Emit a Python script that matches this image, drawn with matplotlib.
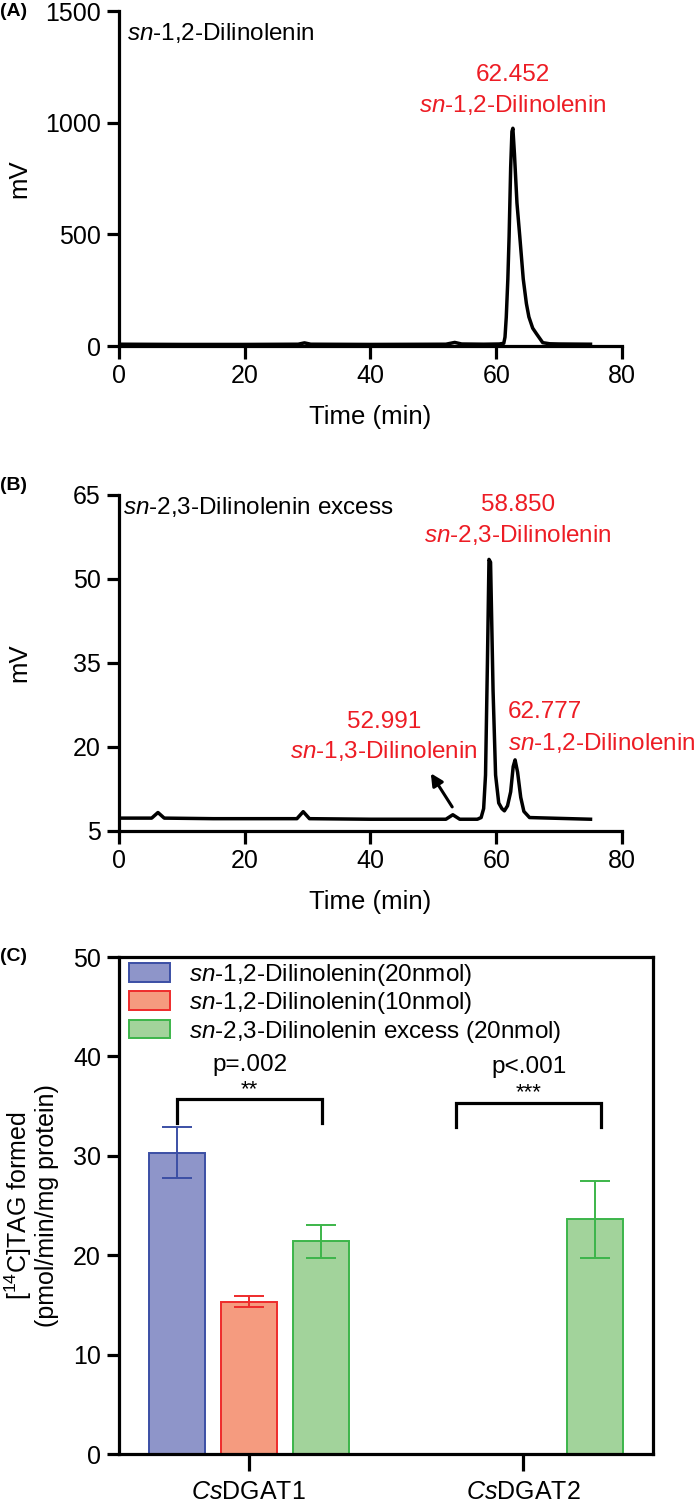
import matplotlib
matplotlib.use("Agg")
import matplotlib.pyplot as plt
from matplotlib.patches import Patch
import numpy as np

plt.rcParams["font.family"] = ["Liberation Sans", "DejaVu Sans"]
plt.rcParams["mathtext.fontset"] = "custom"
plt.rcParams["mathtext.rm"] = "Liberation Sans"
plt.rcParams["mathtext.it"] = "Liberation Sans:italic"
plt.rcParams["font.size"] = 17

RED = "#ed1c24"
LW = 2.3
FS_TICK = 18
FS_NOTE = 17.5

# (A) sn-1,2-Dilinolenin trace
a_time = [0, 10, 20, 28.5, 29.5, 30.5, 40, 52, 53.4, 54.5, 58, 60.5, 61.2, 61.4, 61.6,
          61.85, 62.05, 62.3, 62.5, 62.65, 62.9, 63.3, 63.75, 64.3, 64.8, 65.2, 65.8,
          66.4, 67.4, 68.5, 70, 75]
a_mv = [8, 7, 7, 8, 14, 8, 7, 8, 16, 9, 8, 9, 12, 40, 130,
        300, 490, 800, 960, 975, 860, 640, 490, 300, 190, 130, 80,
        55, 15, 10, 9, 8]

# (B) sn-2,3-Dilinolenin excess trace
b_time = [0, 5.2, 6.2, 7.2, 15, 28.3, 29.3, 30.3, 40, 52.0, 53.1, 54.2, 57.0, 57.6,
          58.0, 58.3, 58.6, 58.85, 59.1, 59.5, 59.9, 60.4, 60.9, 61.3, 61.8, 62.3, 62.7,
          63.0, 63.4, 63.9, 64.4, 65.3, 75]
b_mv = [7.3, 7.3, 8.3, 7.3, 7.2, 7.2, 8.45, 7.2, 7.1, 7.1, 7.9, 7.1, 7.1, 7.4,
        9, 15, 35, 53.5, 53, 30, 15, 10, 9, 8.6, 9.5, 12, 16.5,
        17.7, 15.5, 11, 8.5, 7.4, 7.1]

# (C) DGAT activity
genes = ["DGAT1", "DGAT2"]
series = ["$\\mathit{sn}$-1,2-Dilinolenin(20nmol)",
          "$\\mathit{sn}$-1,2-Dilinolenin(10nmol)",
          "$\\mathit{sn}$-2,3-Dilinolenin excess (20nmol)"]
means = [[30.3, np.nan], [15.3, np.nan], [21.4, 23.6]]
sds = [[2.55, np.nan], [0.55, np.nan], [1.65, 3.9]]
face_colors = ["#8e95c9", "#f59b7f", "#a2d39b"]
edge_colors = ["#3b4fa5", "#ee2b2b", "#3cb54a"]
p_labels = ["p=.002", "p<.001"]
stars = ["**", "***"]


def style_axes(ax):
    for side in ["left", "bottom", "top", "right"]:
        ax.spines[side].set_linewidth(LW)
    ax.tick_params(width=LW, length=9, labelsize=FS_TICK, pad=4)


fig = plt.figure(figsize=(6.95, 15.03), dpi=100)

# ---- (A)
ax = fig.add_axes([0.1712, 0.76979, 0.7237, 0.22289])
ax.plot(a_time, a_mv, color="black", lw=2.5, solid_joinstyle="round")
ax.set_xlim(0, 80)
ax.set_ylim(0, 1500)
ax.set_xticks([0, 20, 40, 60, 80])
ax.set_yticks([0, 500, 1000, 1500])
ax.spines["top"].set_visible(False)
ax.spines["right"].set_visible(False)
style_axes(ax)
ax.set_xlabel("Time (min)", fontsize=18.5, labelpad=12)
ax.set_ylabel("mV", fontsize=18.5)
ax.yaxis.set_label_coords(-0.175, 0.5)
ax.text(1.3, 1401, "$\\mathit{sn}$-1,2-Dilinolenin", ha="left", va="center", fontsize=FS_NOTE)
ax.text(62.6, 1213, "62.452", ha="center", va="center", color=RED, fontsize=FS_NOTE)
ax.text(62.6, 1079, "$\\mathit{sn}$-1,2-Dilinolenin", ha="center", va="center",
        color=RED, fontsize=FS_NOTE)
fig.text(0.0, 1 - 12 / 1503, "(A)", ha="left", va="center", fontsize=14, weight="bold")

# ---- (B)
ax = fig.add_axes([0.1712, 0.44711, 0.7237, 0.22355])
ax.plot(b_time, b_mv, color="black", lw=2.5, solid_joinstyle="round")
ax.set_xlim(0, 80)
ax.set_ylim(5, 65)
ax.set_xticks([0, 20, 40, 60, 80])
ax.set_yticks([5, 20, 35, 50, 65])
ax.spines["top"].set_visible(False)
ax.spines["right"].set_visible(False)
style_axes(ax)
ax.set_xlabel("Time (min)", fontsize=18.5, labelpad=12)
ax.set_ylabel("mV", fontsize=18.5)
ax.yaxis.set_label_coords(-0.175, 0.5)
ax.text(0.6, 62.9, "$\\mathit{sn}$-2,3-Dilinolenin excess", ha="left", va="center",
        fontsize=FS_NOTE)
ax.text(63.4, 63.2, "58.850", ha="center", va="center", color=RED, fontsize=FS_NOTE)
ax.text(63.4, 57.9, "$\\mathit{sn}$-2,3-Dilinolenin", ha="center", va="center",
        color=RED, fontsize=FS_NOTE)
ax.text(61.8, 26.3, "62.777", ha="left", va="center", color=RED, fontsize=FS_NOTE)
ax.text(61.9, 20.7, "$\\mathit{sn}$-1,2-Dilinolenin", ha="left", va="center",
        color=RED, fontsize=FS_NOTE, clip_on=False)
ax.text(42.1, 24.5, "52.991", ha="center", va="center", color=RED, fontsize=FS_NOTE)
ax.text(42.1, 19.2, "$\\mathit{sn}$-1,3-Dilinolenin", ha="center", va="center",
        color=RED, fontsize=FS_NOTE)
ax.annotate("", xy=(49.6, 15.3), xytext=(53.0, 9.3),
            arrowprops=dict(arrowstyle="-|>", color="black", lw=2.2,
                            mutation_scale=18, shrinkA=0, shrinkB=0))
fig.text(0.0, 1 - 485 / 1503, "(B)", ha="left", va="center", fontsize=14, weight="bold")

# ---- (C)
ax = fig.add_axes([0.1712, 0.03260, 0.7683, 0.33067])
x = np.arange(len(genes))
offsets = [-0.262, 0.0, 0.262]
width = 0.205
for i in range(len(series)):
    m = np.array(means[i])
    s = np.array(sds[i])
    ok = ~np.isnan(m)
    xp = x[ok] + offsets[i]
    ax.bar(xp, m[ok], width, color=face_colors[i], edgecolor=edge_colors[i],
           linewidth=1.4, label=series[i], zorder=2)
    ax.errorbar(xp, m[ok], yerr=s[ok], fmt="none", ecolor=edge_colors[i],
                elinewidth=1.4, capsize=11, capthick=1.4, zorder=3)

bracket_x = [(-0.262, 0.268), (0.755, 1.285)]
bracket_top = [35.7, 35.3]
bracket_foot = [33.3, 32.9]
p_y = [39.1, 38.9]
star_y = [36.1, 35.8]
for k in range(len(genes)):
    x0, x1 = bracket_x[k]
    ax.plot([x0, x0, x1, x1], [bracket_foot[k], bracket_top[k], bracket_top[k], bracket_foot[k]],
            color="black", lw=LW, solid_joinstyle="miter", zorder=3)
    xc = (x0 + x1) / 2
    ax.text(xc, p_y[k], p_labels[k], ha="center", va="center", fontsize=FS_NOTE)
    ax.text(xc, star_y[k], stars[k], ha="center", va="baseline", fontsize=16)

ax.set_xlim(-0.473, 1.473)
ax.set_ylim(0, 50)
ax.set_yticks([0, 10, 20, 30, 40, 50])
ax.set_xticks(x)
ax.set_xticklabels(["$\\mathit{Cs}$" + g for g in genes])
style_axes(ax)
ax.tick_params(axis="x", length=12, pad=7)
ax.set_ylabel("[$^{14}$C]TAG formed\n(pmol/min/mg protein)", fontsize=18, linespacing=1.05)
ax.yaxis.set_label_coords(-0.112, 0.5)

handles = [Patch(facecolor=face_colors[i], edgecolor=edge_colors[i], linewidth=1.4)
           for i in range(len(series))]
ax.legend(handles, series, loc="upper left", bbox_to_anchor=(0.0, 1.01), frameon=False,
          fontsize=FS_NOTE, handlelength=1.7, handleheight=0.8, labelspacing=0.1,
          handletextpad=0.8, borderpad=0.2, borderaxespad=0.2)
fig.text(0.0, 1 - 957 / 1503, "(C)", ha="left", va="center", fontsize=14, weight="bold")

fig.savefig("out.png", dpi=100)
